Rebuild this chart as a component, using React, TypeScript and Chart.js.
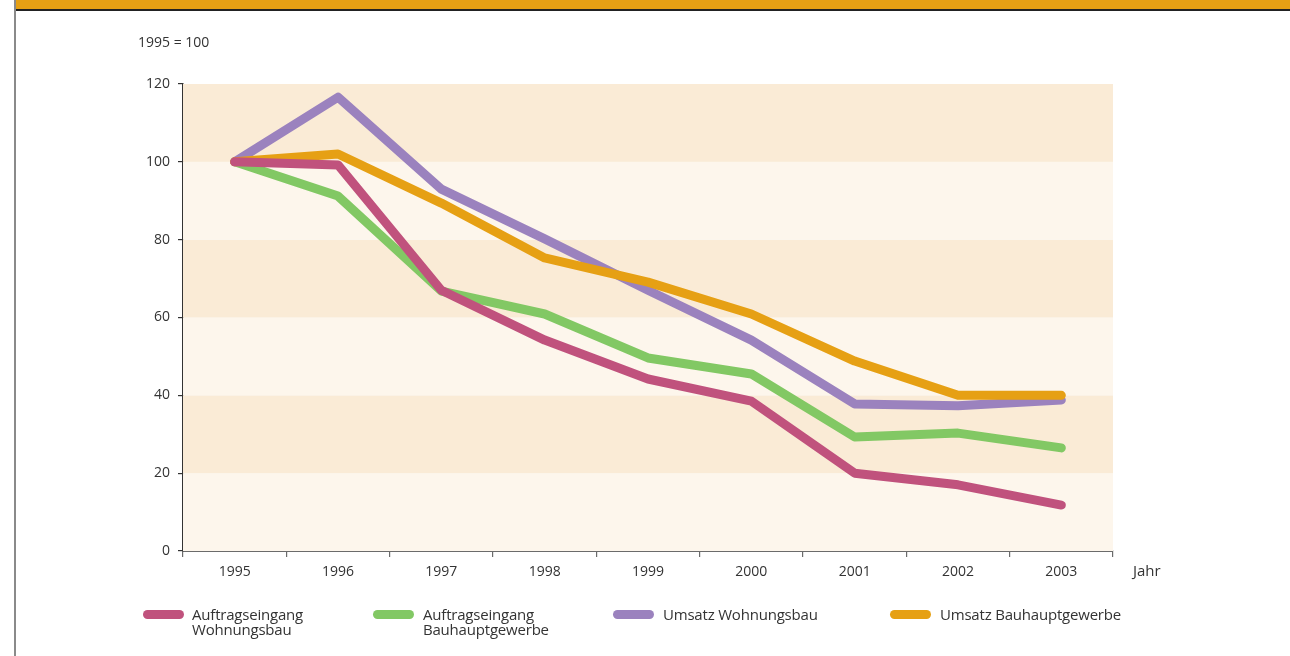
import React, { useEffect, useRef } from "react";
import { Chart, registerables } from "chart.js";

Chart.register(...registerables);

const years = ["1995", "1996", "1997", "1998", "1999", "2000", "2001", "2002", "2003"];
const auftragWohnungsbau = [100, 99.2, 67, 54.2, 44.2, 38.5, 20, 17, 11.8];
const auftragBauhaupt = [100, 91.2, 66.8, 60.9, 49.6, 45.5, 29.3, 30.3, 26.5];
const umsatzWohnungsbau = [100, 116.6, 93, 80.2, 67, 54.2, 37.8, 37.3, 38.8];
const umsatzBauhaupt = [100, 102, 89.4, 75.3, 69.1, 60.9, 48.8, 40, 40];
const yTicks = [0, 20, 40, 60, 80, 100, 120];

const seriesNames = [
  ["Auftragseingang", "Wohnungsbau"],
  ["Auftragseingang", "Bauhauptgewerbe"],
  ["Umsatz Wohnungsbau"],
  ["Umsatz Bauhauptgewerbe"],
];
const seriesColors = ["#C0527D", "#82C864", "#9B82BE", "#E6A014"];
const seriesOrder = [0, 3, 2, 1];
const bandColors = ["#FDF6EC", "#FAEBD6"];

const FONT = "'Open Sans', 'Noto Sans', sans-serif";

const bandsPlugin = {
  id: "bands",
  beforeDatasetsDraw(chart: any) {
    const { ctx, chartArea, scales } = chart;
    const y = scales.y;
    ctx.save();
    for (let i = 0; i < yTicks.length - 1; i++) {
      const top = y.getPixelForValue(yTicks[i + 1]);
      const bottom = y.getPixelForValue(yTicks[i]);
      ctx.fillStyle = bandColors[i % 2];
      ctx.fillRect(chartArea.left, top, chartArea.right - chartArea.left, bottom - top);
    }
    ctx.restore();
  },
};

export default function App() {
  const ref = useRef<HTMLCanvasElement>(null);
  useEffect(() => {
    if (!ref.current) return;
    const data = [auftragWohnungsbau, auftragBauhaupt, umsatzWohnungsbau, umsatzBauhaupt];
    const chart = new Chart(ref.current, {
      type: "line",
      data: {
        labels: years,
        datasets: data.map((d, i) => ({
          label: seriesNames[i].join(" "),
          data: d,
          borderColor: seriesColors[i],
          backgroundColor: seriesColors[i],
          borderWidth: 9,
          borderCapStyle: "round",
          borderJoinStyle: "round",
          pointRadius: 0,
          tension: 0,
          order: seriesOrder[i],
        })),
      },
      options: {
        animation: false,
        responsive: false,
        maintainAspectRatio: false,
        layout: { padding: { left: 0, right: 177, top: 84, bottom: 0 } },
        plugins: { legend: { display: false }, tooltip: { enabled: false } },
        scales: {
          x: {
            type: "category",
            offset: true,
            afterFit: (s: any) => { s.height = 105; },
            grid: { display: true, offset: true, drawOnChartArea: false, drawTicks: true, tickLength: 6, color: "#6b6b6b", lineWidth: 1.2 },
            border: { display: true, color: "#6b6b6b", width: 2 },
            ticks: { color: "#333", font: { family: FONT, size: 14 }, padding: 7, maxRotation: 0 },
          },
          y: {
            min: 0,
            max: 120,
            afterFit: (s: any) => { s.width = 183; },
            afterBuildTicks: (s: any) => { s.ticks = yTicks.map((v) => ({ value: v })); },
            grid: { display: true, drawOnChartArea: false, drawTicks: true, tickLength: 5, color: "#333", lineWidth: 1.2 },
            border: { display: true, color: "#333", width: 1.5 },
            ticks: { color: "#333", font: { family: FONT, size: 14 }, padding: 8 },
          },
        },
      },
      plugins: [bandsPlugin],
    } as any);
    return () => chart.destroy();
  }, []);

  const legendX = [143, 373, 613, 890];
  const textX = [192, 423, 663, 940];

  return (
    <div style={{ position: "absolute", left: 0, top: 0, width: 1290, height: 656, background: "#fff", fontFamily: FONT, color: "#333", overflow: "hidden" }}>
      <div style={{ position: "absolute", left: 15, top: 0, width: 1275, height: 9, background: "#E6A014" }} />
      <div style={{ position: "absolute", left: 15, top: 9, width: 1275, height: 2, background: "#222" }} />
      <div style={{ position: "absolute", left: 14, top: 0, width: 2, height: 656, background: "#8a8a8a" }} />
      <canvas ref={ref} width={1290} height={656} style={{ position: "absolute", left: 0, top: 0 }} />
      <div style={{ position: "absolute", left: 138, top: 32, fontSize: 14, whiteSpace: "nowrap" }}>1995 = 100</div>
      <div style={{ position: "absolute", left: 1133, top: 560, fontSize: 15, whiteSpace: "nowrap" }}>Jahr</div>
      {seriesNames.map((n, i) => (
        <React.Fragment key={i}>
          <div style={{ position: "absolute", left: legendX[i], top: 610, width: 41, height: 9, borderRadius: 5, background: seriesColors[i] }} />
          <div style={{ position: "absolute", left: textX[i], top: 607, fontSize: 15, lineHeight: "15px", whiteSpace: "nowrap", letterSpacing: -0.2 }}>
            {n.map((l, j) => (<div key={j}>{l}</div>))}
          </div>
        </React.Fragment>
      ))}
    </div>
  );
}
